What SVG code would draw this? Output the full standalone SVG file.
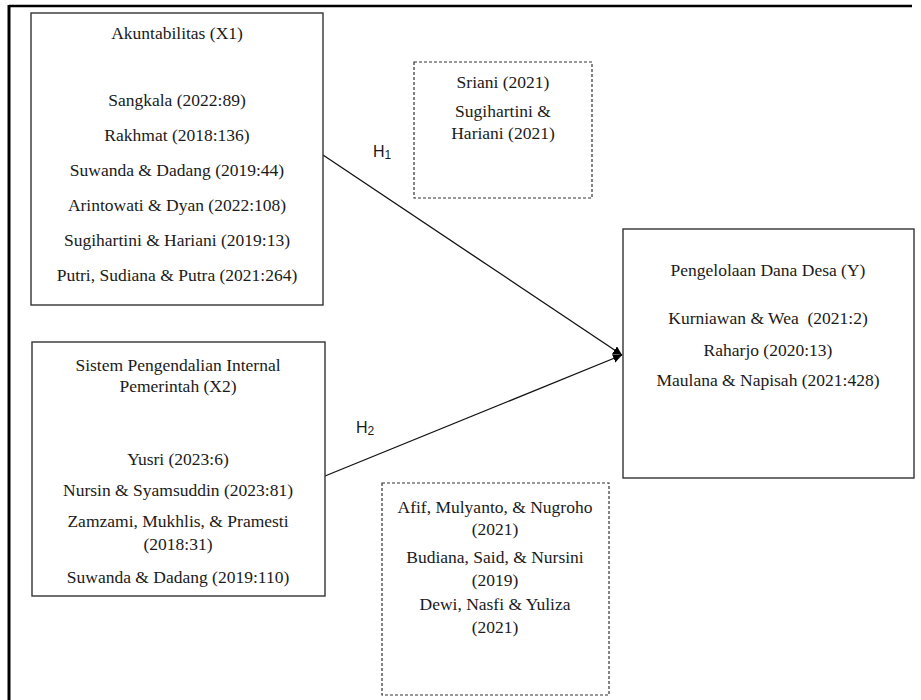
<svg xmlns="http://www.w3.org/2000/svg" width="921" height="700" viewBox="0 0 921 700">
<defs>
<style>
.box{fill:#fff;stroke:#333;stroke-width:1.4}
.dash{fill:#fff;stroke:#333;stroke-width:1.2;stroke-dasharray:3 2}
.t{font-family:"Liberation Serif","Times New Roman",serif;font-size:17.5px;fill:#1a1a1a;text-anchor:middle}
.h{font-family:"Liberation Sans",Arial,sans-serif;font-size:16px;fill:#1a1a1a}
.ln{stroke:#111;stroke-width:1.3;fill:none}
</style>
<marker id="ah" viewBox="0 0 10 10" refX="10" refY="5" markerWidth="9" markerHeight="9" markerUnits="userSpaceOnUse" orient="auto">
<path d="M0,0 L10,5 L0,10 z" fill="#000"/>
</marker>
</defs>
<rect width="921" height="700" fill="#fff"/>
<g id="frame">
<line x1="9" y1="6" x2="912" y2="6" stroke="#000" stroke-width="2.5"/>
<line x1="9" y1="5" x2="9" y2="700" stroke="#000" stroke-width="3"/>
</g>
<g id="connectors">
<line class="ln" x1="323" y1="155" x2="622" y2="355" marker-end="url(#ah)"/>
<line class="ln" x1="325" y1="476" x2="622" y2="355" marker-end="url(#ah)"/>
<text class="h" x="373" y="157">H<tspan font-size="12" dy="2">1</tspan></text>
<text class="h" x="356" y="433">H<tspan font-size="12" dy="2">2</tspan></text>
</g>
<g id="x1">
<rect class="box" x="31" y="13" width="292" height="292"/>
<text class="t" x="177" y="39">Akuntabilitas (X1)</text>
<text class="t" x="177" y="106">Sangkala (2022:89)</text>
<text class="t" x="177" y="141">Rakhmat (2018:136)</text>
<text class="t" x="177" y="176">Suwanda &amp; Dadang (2019:44)</text>
<text class="t" x="177" y="211">Arintowati &amp; Dyan (2022:108)</text>
<text class="t" x="177" y="246">Sugihartini &amp; Hariani (2019:13)</text>
<text class="t" x="177" y="281">Putri, Sudiana &amp; Putra (2021:264)</text>
</g>
<g id="x2">
<rect class="box" x="32" y="342" width="293" height="254"/>
<text class="t" x="178" y="371">Sistem Pengendalian Internal</text>
<text class="t" x="178" y="392">Pemerintah (X2)</text>
<text class="t" x="178" y="465">Yusri (2023:6)</text>
<text class="t" x="178" y="496">Nursin &amp; Syamsuddin (2023:81)</text>
<text class="t" x="178" y="527">Zamzami, Mukhlis, &amp; Pramesti</text>
<text class="t" x="178" y="550">(2018:31)</text>
<text class="t" x="178" y="583">Suwanda &amp; Dadang (2019:110)</text>
</g>
<g id="y">
<rect class="box" x="623" y="229" width="291" height="249"/>
<text class="t" x="768" y="276">Pengelolaan Dana Desa (Y)</text>
<text class="t" x="768" y="324" xml:space="preserve">Kurniawan &amp; Wea  (2021:2)</text>
<text class="t" x="768" y="356">Raharjo (2020:13)</text>
<text class="t" x="768" y="386">Maulana &amp; Napisah (2021:428)</text>
</g>
<g id="mod1">
<rect class="dash" x="414" y="62" width="178" height="136"/>
<text class="t" x="503" y="88">Sriani (2021)</text>
<text class="t" x="503" y="117">Sugihartini &amp;</text>
<text class="t" x="503" y="139">Hariani (2021)</text>
</g>
<g id="mod2">
<rect class="dash" x="382" y="483" width="227" height="212"/>
<text class="t" x="495" y="513">Afif, Mulyanto, &amp; Nugroho</text>
<text class="t" x="495" y="535">(2021)</text>
<text class="t" x="495" y="563">Budiana, Said, &amp; Nursini</text>
<text class="t" x="495" y="586">(2019)</text>
<text class="t" x="495" y="610">Dewi, Nasfi &amp; Yuliza</text>
<text class="t" x="495" y="633">(2021)</text>
</g>
</svg>
